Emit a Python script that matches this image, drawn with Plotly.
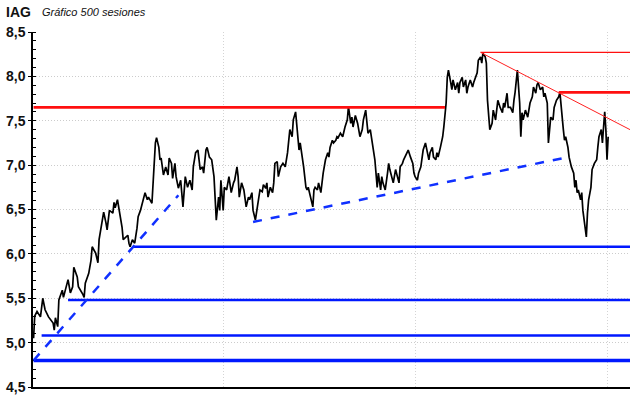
import plotly.graph_objects as go

# ---- data (session index, price) ----
sessions = [0, 1, 3, 6, 8, 10, 13, 17, 18, 19, 21, 22, 25, 26, 30, 32, 34, 35, 38, 39, 43, 44, 45, 48, 50, 51,
            54, 56, 57, 59, 61, 63, 64, 66, 69, 70, 71, 73, 75, 77, 78, 82, 83, 84, 86, 88, 90, 91, 93, 96, 97,
            99, 100, 103, 104, 105, 106, 107, 109, 110, 111, 113, 115, 117, 118, 120, 121, 123, 124, 126, 128,
            130, 131, 132, 134, 136, 138, 139, 141, 143, 144, 145, 147, 148, 150, 151, 153, 155, 157, 158, 159,
            161, 162, 163, 165, 166, 168, 170, 171, 172, 174, 175, 177, 178, 179, 181, 183, 184, 185, 187, 188,
            190, 191, 193, 195, 196, 197, 199, 200, 202, 203, 204, 206, 208, 209, 210, 212, 213, 215, 217, 219,
            221, 222, 223, 225, 226, 228, 230, 231, 232, 234, 235, 237, 238, 239, 241, 243, 244, 245, 247, 248,
            250, 251, 252, 254, 256, 257, 258, 260, 261, 263, 264, 265, 267, 269, 270, 271, 273, 274, 276, 277,
            278, 280, 282, 283, 284, 286, 287, 289, 290, 291, 293, 295, 296, 297, 299, 300, 302, 303, 304, 306,
            308, 309, 310, 312, 313, 315, 317, 318, 319, 321, 322, 323, 325, 326, 328, 330, 331, 332, 334, 335,
            337, 338, 339, 341, 343, 344, 345, 347, 348, 350, 351, 352, 354, 356, 357, 358, 359, 360, 361, 363,
            364, 365, 367, 369, 370, 371, 373, 374, 376, 377, 378, 380, 382, 383, 384, 386, 387, 389, 390, 391,
            393, 394, 395, 396, 397, 399, 400, 402, 403, 404, 406, 408, 409, 410, 412, 413, 415, 417, 418, 419,
            421, 423, 424, 425, 426, 428, 430, 431, 432, 434, 435, 437, 438, 439, 441, 443, 444, 445, 447, 448,
            449, 450, 452, 453, 455, 457, 458, 459, 461, 462, 463, 465, 466, 468, 470, 471, 472, 473, 474, 476,
            477, 478, 480, 481, 482, 483, 485, 486, 488, 490, 491, 492, 494, 495, 496, 497, 498, 499, 500]
price = [5.05, 5.30, 5.35, 5.29, 5.50, 5.37, 5.29, 5.22, 5.14, 5.28, 5.18, 5.48, 5.59, 5.51, 5.71, 5.56, 5.63,
         5.85, 5.74, 5.63, 5.54, 5.51, 5.67, 5.78, 5.93, 6.08, 6.01, 5.90, 6.16, 6.30, 6.47, 6.35, 6.27, 6.49,
         6.46, 6.58, 6.52, 6.61, 6.46, 6.30, 6.16, 6.21, 6.12, 6.08, 6.16, 6.12, 6.29, 6.42, 6.49, 6.64, 6.69,
         6.61, 6.64, 6.57, 6.81, 7.09, 7.25, 7.31, 7.20, 7.06, 7.08, 6.89, 6.98, 6.89, 7.08, 7.02, 6.85, 7.02,
         6.87, 6.74, 6.83, 6.53, 6.78, 6.87, 6.75, 6.83, 6.72, 6.98, 7.14, 7.17, 7.06, 6.95, 6.98, 6.91, 7.17,
         7.20, 7.09, 7.06, 6.87, 6.57, 6.38, 6.64, 6.49, 6.83, 6.49, 6.75, 6.72, 6.87, 6.80, 6.69, 6.80, 6.83,
         6.98, 6.87, 6.64, 6.80, 6.72, 6.64, 6.53, 6.64, 6.61, 6.69, 6.49, 6.38, 6.53, 6.64, 6.72, 6.70, 6.78,
         6.74, 6.80, 6.64, 6.75, 6.69, 6.80, 7.02, 7.04, 6.87, 6.98, 7.02, 6.98, 7.14, 7.32, 7.40, 7.32, 7.51,
         7.60, 7.28, 7.17, 7.25, 7.09, 6.98, 6.75, 6.72, 6.75, 6.64, 6.53, 6.72, 6.75, 6.72, 6.80, 6.69, 6.83,
         6.91, 7.06, 7.14, 7.09, 7.20, 7.28, 7.25, 7.28, 7.32, 7.31, 7.36, 7.32, 7.40, 7.43, 7.51, 7.66, 7.47,
         7.54, 7.43, 7.56, 7.47, 7.36, 7.32, 7.40, 7.51, 7.62, 7.43, 7.36, 7.40, 7.25, 7.14, 7.06, 6.75, 6.91,
         6.72, 6.87, 6.80, 6.72, 6.91, 7.02, 6.95, 6.83, 6.80, 6.95, 6.83, 6.80, 6.98, 7.02, 7.06, 7.09, 7.14,
         7.17, 7.09, 7.02, 6.91, 6.87, 6.83, 6.91, 6.98, 7.06, 7.17, 7.25, 7.14, 7.06, 7.14, 7.20, 7.09, 7.06,
         7.14, 7.09, 7.20, 7.32, 7.43, 7.54, 7.70, 7.99, 8.07, 7.93, 7.85, 7.96, 7.85, 7.93, 7.81, 7.93, 7.99,
         7.88, 7.96, 7.81, 7.88, 7.96, 7.88, 7.93, 7.96, 8.04, 8.18, 8.22, 8.15, 8.26, 8.22, 8.15, 7.73, 7.51,
         7.40, 7.47, 7.62, 7.51, 7.62, 7.73, 7.65, 7.59, 7.70, 7.65, 7.81, 7.65, 7.65, 7.59, 7.73, 7.82, 8.07,
         7.70, 7.32, 7.59, 7.51, 7.62, 7.54, 7.65, 7.70, 7.77, 7.88, 7.81, 7.90, 7.93, 7.85, 7.88, 7.77, 7.81,
         7.70, 7.25, 7.43, 7.54, 7.51, 7.65, 7.73, 7.77, 7.82, 7.65, 7.40, 7.28, 7.32, 7.20, 7.09, 6.98, 6.91,
         6.75, 6.83, 6.69, 6.72, 6.61, 6.69, 6.49, 6.27, 6.19, 6.46, 6.61, 6.75, 6.95, 7.02, 7.06, 7.20, 7.32,
         7.40, 7.25, 7.43, 7.60, 7.40, 7.06, 7.32]

# horizontal support levels (blue) and where they start
support_levels = [6.08, 5.48, 5.08, 4.80]
support_start = [87, 30, 7, 0]
support_width = [2.5, 2.5, 2.5, 3.5]
# horizontal resistance levels (red)
resist_levels = [7.65, 8.27, 7.82]
resist_start = [0, 389, 457]
resist_end = [358, 519, 519]
resist_width = [2.8, 1.3, 2.8]
# trend lines: (x0, y0, x1, y1)
down_trend = (389, 8.27, 519, 7.40)
up_trends = [(0, 4.80, 126, 6.66), (191, 6.36, 465, 7.09)]

x_max = 519
y_ticks = [4.5, 5.0, 5.5, 6.0, 6.5, 7.0, 7.5, 8.0, 8.5]
x_grid = [165, 332, 499]

fig = go.Figure()

shapes = []
for lvl, s0, w in zip(support_levels, support_start, support_width):
    shapes.append(dict(type="line", xref="x", yref="y", x0=s0, x1=x_max, y0=lvl, y1=lvl,
                       line=dict(color="#0018ff", width=w), layer="above"))
for lvl, s0, s1, w in zip(resist_levels, resist_start, resist_end, resist_width):
    shapes.append(dict(type="line", xref="x", yref="y", x0=s0, x1=s1, y0=lvl, y1=lvl,
                       line=dict(color="#ff1010", width=w), layer="above"))
shapes.append(dict(type="line", xref="x", yref="y", x0=down_trend[0], y0=down_trend[1],
                   x1=down_trend[2], y1=down_trend[3], line=dict(color="#ff2020", width=1), layer="above"))
for (a, b, c, d) in up_trends:
    shapes.append(dict(type="line", xref="x", yref="y", x0=a, y0=b, x1=c, y1=d,
                       line=dict(color="#1030ff", width=2.5, dash="dash"), layer="above"))

fig.add_trace(go.Scatter(x=sessions, y=price, mode="lines",
                         line=dict(color="black", width=1.7), hoverinfo="skip", showlegend=False))

fig.update_layout(
    width=640, height=398,
    margin=dict(l=33, r=10, t=32, b=11),
    paper_bgcolor="white", plot_bgcolor="white",
    separators=",.",
    showlegend=False,
    shapes=shapes,
    xaxis=dict(range=[-0.5, x_max], showticklabels=False, tickvals=x_grid, ticks="",
               showgrid=True, gridcolor="#d4d4d4", griddash="1px,2px", gridwidth=1, automargin=False,
               showline=True, linecolor="black", linewidth=1.5, zeroline=False, fixedrange=True),
    yaxis=dict(range=[4.5, 8.5], tickvals=y_ticks, tickformat=".1f", ticks="outside", ticklen=3,
               tickcolor="black", showline=True, linecolor="black", linewidth=1.5, automargin=False,
               showgrid=True, gridcolor="#cccccc", griddash="1px,2px", gridwidth=1, zeroline=False,
               tickfont=dict(family="Liberation Sans, Arial", size=14, color="#111111", weight="bold"),
               minor=dict(dtick=0.1, ticks="inside", ticklen=3, tickcolor="black", showgrid=False),
               fixedrange=True),
    annotations=[
        dict(text="IAG", xref="paper", yref="paper", x=(4 - 33) / 597, y=(387 - 12) / 355,
             xanchor="left", yanchor="middle", showarrow=False,
             font=dict(family="Liberation Sans, Arial", size=14, color="#111111", weight="bold")),
        dict(text="<i>Gráfico 500 sesiones</i>", xref="paper", yref="paper", x=(40 - 33) / 597,
             y=(387 - 12) / 355, xanchor="left", yanchor="middle", showarrow=False,
             font=dict(family="Liberation Sans, Arial", size=11, color="#111111")),
    ],
)

fig.write_html("out.html", config={"displayModeBar": False},
               post_script="document.body.style.margin='0px';")
